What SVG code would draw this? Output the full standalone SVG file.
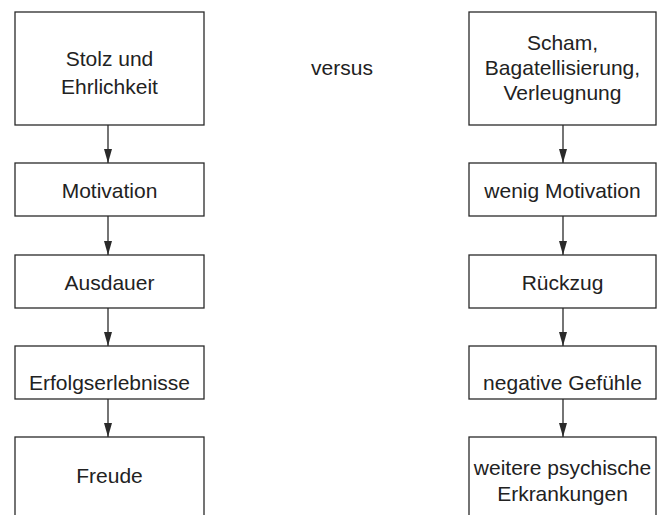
<svg xmlns="http://www.w3.org/2000/svg" width="664" height="515" viewBox="0 0 664 515">
<style>
.box{fill:#fff;stroke:#2a2a2a;stroke-width:1.3}
.t{font-family:"Liberation Sans",Arial,sans-serif;font-size:21px;fill:#222;text-anchor:middle}
.c{stroke:#2a2a2a;stroke-width:1.3;fill:none}
</style>
<defs>
<marker id="ah" markerWidth="8" markerHeight="14" refX="4" refY="14" orient="auto-start-reverse" markerUnits="userSpaceOnUse" viewBox="0 0 8 14">
<path d="M0,0 L8,0 L4,14 Z" fill="#2a2a2a" transform="rotate(-90 4 7) translate(-3 3)"/>
</marker>
<marker id="arr" markerWidth="14" markerHeight="8" refX="14" refY="4" orient="auto" markerUnits="userSpaceOnUse">
<path d="M0,0 L14,4 L0,8 Z" fill="#2a2a2a"/>
</marker>
</defs>
<rect width="664" height="515" fill="#fff"/>
<g id="connectors">
<path class="c" d="M108,125 V163" marker-end="url(#arr)"/>
<path class="c" d="M108,216 V255" marker-end="url(#arr)"/>
<path class="c" d="M108,308 V346" marker-end="url(#arr)"/>
<path class="c" d="M108,399 V437" marker-end="url(#arr)"/>
<path class="c" d="M563,125 V163" marker-end="url(#arr)"/>
<path class="c" d="M563,216 V255" marker-end="url(#arr)"/>
<path class="c" d="M563,308 V346" marker-end="url(#arr)"/>
<path class="c" d="M563,399 V437" marker-end="url(#arr)"/>
</g>
<g id="stolz"><rect class="box" x="15" y="12" width="189" height="113"/><text class="t" x="109.5" y="66">Stolz und</text><text class="t" x="109.5" y="94">Ehrlichkeit</text></g>
<g id="motivation"><rect class="box" x="15" y="163" width="189" height="53"/><text class="t" x="109.5" y="198">Motivation</text></g>
<g id="ausdauer"><rect class="box" x="15" y="255" width="189" height="53"/><text class="t" x="109.5" y="290">Ausdauer</text></g>
<g id="erfolg"><rect class="box" x="15" y="346" width="189" height="53"/><text class="t" x="109.5" y="390">Erfolgserlebnisse</text></g>
<g id="freude"><rect class="box" x="15" y="437" width="189" height="90"/><text class="t" x="109.5" y="483">Freude</text></g>
<g id="versus"><text class="t" x="342" y="75">versus</text></g>
<g id="scham"><rect class="box" x="469" y="12" width="187" height="113"/><text class="t" x="562.5" y="50">Scham,</text><text class="t" x="562.5" y="75">Bagatellisierung,</text><text class="t" x="562.5" y="100">Verleugnung</text></g>
<g id="wenig"><rect class="box" x="469" y="163" width="187" height="53"/><text class="t" x="562.5" y="198">wenig Motivation</text></g>
<g id="rueckzug"><rect class="box" x="469" y="255" width="187" height="53"/><text class="t" x="562.5" y="290">Rückzug</text></g>
<g id="negativ"><rect class="box" x="469" y="346" width="187" height="53"/><text class="t" x="562.5" y="390">negative Gefühle</text></g>
<g id="weitere"><rect class="box" x="469" y="437" width="187" height="90"/><text class="t" x="562.5" y="475">weitere psychische</text><text class="t" x="562.5" y="501">Erkrankungen</text></g>
</svg>
